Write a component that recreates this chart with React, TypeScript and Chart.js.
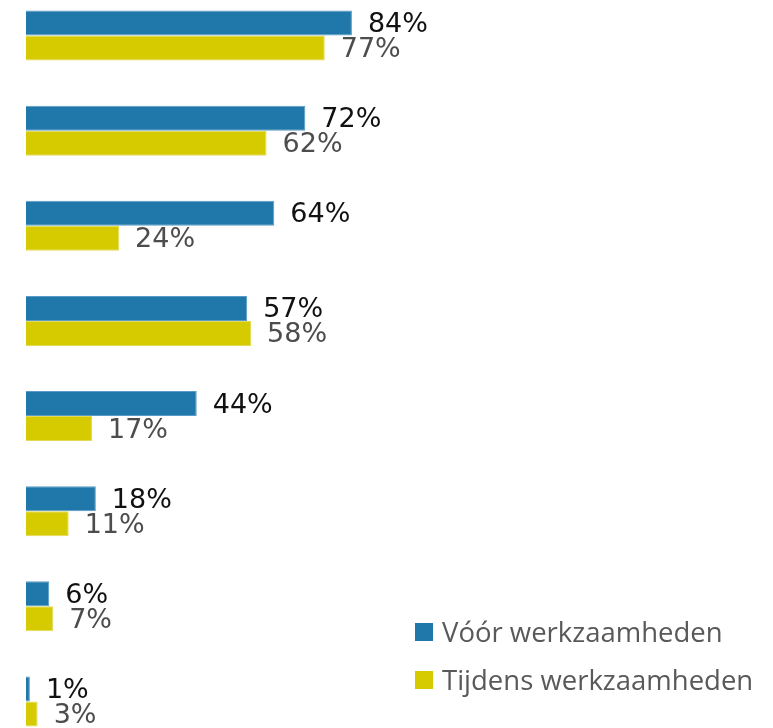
import React, { useEffect, useRef } from "react";
import { Chart, registerables } from "chart.js";

Chart.register(...registerables);

const categories = ["A", "B", "C", "D", "E", "F", "G", "H"];
const seriesNames = ["Vóór werkzaamheden", "Tijdens werkzaamheden"];
const beforeValues = [84, 72, 64, 57, 44, 18, 6, 1];
const duringValues = [77, 62, 24, 58, 17, 11, 7, 3];
const seriesColors = ["#2077A9", "#D6CB00"];
const borderColors = ["#5A9CC6", "#E2DA55"];
const labelColors = ["#111111", "#4D4D4D"];

const CANVAS_TOP = -12;

const labelPlugin = {
  id: "valueLabels",
  afterDatasetsDraw(chart: any) {
    const ctx = chart.ctx;
    ctx.save();
    ctx.font = "27px 'DejaVu Sans'";
    ctx.textAlign = "left";
    ctx.textBaseline = "middle";
    chart.data.datasets.forEach((ds: any, di: number) => {
      const meta = chart.getDatasetMeta(di);
      ctx.fillStyle = labelColors[di];
      meta.data.forEach((bar: any, i: number) => {
        ctx.fillText(ds.data[i] + "%", bar.x + 16, bar.y + 2);
      });
    });
    ctx.restore();
  },
};

const legendPlugin = {
  id: "customLegend",
  afterDraw(chart: any) {
    const ctx = chart.ctx;
    ctx.save();
    ctx.font = "27.5px 'Open Sans'";
    ctx.textAlign = "left";
    ctx.textBaseline = "alphabetic";
    const tops = [623, 671];
    chart.data.datasets.forEach((ds: any, di: number) => {
      const top = tops[di] - CANVAS_TOP;
      ctx.fillStyle = seriesColors[di];
      ctx.fillRect(415, top, 18, 18);
      ctx.fillStyle = "#595959";
      ctx.fillText(ds.label, 442, top + 19);
    });
    ctx.restore();
  },
};

export default function App() {
  const ref = useRef<HTMLCanvasElement>(null);
  useEffect(() => {
    if (!ref.current) return;
    const chart = new Chart(ref.current, {
      type: "bar",
      data: {
        labels: categories,
        datasets: [
          {
            label: seriesNames[0],
            data: beforeValues,
            backgroundColor: seriesColors[0],
            borderColor: borderColors[0],
            borderWidth: 1,
            categoryPercentage: 0.526,
            barPercentage: 1,
          },
          {
            label: seriesNames[1],
            data: duringValues,
            backgroundColor: seriesColors[1],
            borderColor: borderColors[1],
            borderWidth: 1,
            categoryPercentage: 0.526,
            barPercentage: 1,
          },
        ],
      },
      options: {
        indexAxis: "y",
        responsive: false,
        animation: false,
        layout: { padding: { left: 26, right: 359, top: 0, bottom: 0 } },
        plugins: { legend: { display: false }, tooltip: { enabled: false } },
        scales: {
          x: { display: false, min: 0, max: 100 },
          y: { display: false },
        },
      },
      plugins: [labelPlugin, legendPlugin],
    });
    return () => chart.destroy();
  }, []);
  return (
    <div
      style={{
        position: "absolute",
        left: 0,
        top: 0,
        width: 773,
        height: 728,
        overflow: "hidden",
        background: "#fff",
      }}
    >
      <canvas
        ref={ref}
        width={773}
        height={761}
        style={{ position: "absolute", left: 0, top: CANVAS_TOP, width: 773, height: 761 }}
      />
    </div>
  );
}
